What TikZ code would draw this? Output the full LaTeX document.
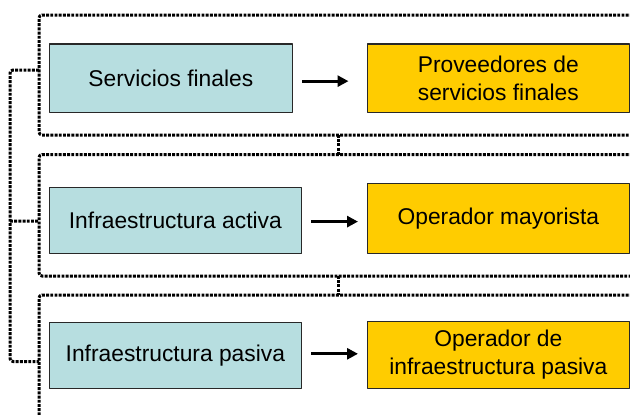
\documentclass[tikz,border=0pt]{standalone}
\usepackage{fontspec}
\setmainfont{Liberation Sans}
\usetikzlibrary{arrows.meta}
\definecolor{azulclaro}{RGB}{183,222,224}
\definecolor{amarillo}{RGB}{255,204,0}
\definecolor{borde}{RGB}{40,40,40}
\begin{document}
\begin{tikzpicture}[x=1pt, y=-1pt, font=\fontsize{22.8}{27.6}\selectfont, line join=round,
	capa/.style={draw=black, line width=3pt, dash pattern=on 2.9pt off 1.3pt, rounded corners=3pt},
	azul/.style={draw=borde, line width=1.2pt, fill=azulclaro, anchor=north west, align=center, inner sep=0pt},
	amar/.style={draw=borde, line width=1.2pt, fill=amarillo, anchor=north west, align=center, inner sep=0pt},
	flecha/.style={line width=3pt, -{Triangle[length=11pt,width=11pt]}}]
	\useasboundingbox (0,0) rectangle (630,415);
	\clip (0,0) rectangle (630,415) ; % marco de la figura
	\draw[capa] (700,15) -- (39,15) -- (39,135) -- (700,135);
	\draw[capa] (700,154.5) -- (39,154.5) -- (39,276) -- (700,276);
	\draw[capa] (700,295) -- (39,295) -- (39,430);
	\draw[capa] (338,135) -- (338,154.5) (338,276) -- (338,295);
	\draw[capa] (39,70) -- (10,70) -- (10,361.5) -- (39,361.5) (10,221) -- (39,221);
	\node[azul, minimum width=243.5pt, minimum height=68.5pt] (sf) at (48.5,43.3) {Servicios finales};
	\node[azul, minimum width=252.5pt, minimum height=66pt] (ia) at (48.5,187) {Infraestructura activa};
	\node[azul, minimum width=252.5pt, minimum height=66pt] (ip) at (48.5,321.7) {Infraestructura pasiva};
	\node[amar, minimum width=261.5pt, minimum height=68.5pt] (psf) at (367,43.3) {Proveedores de\\servicios finales};
	\node[amar, minimum width=261.5pt, minimum height=70pt] (om) at (367,183) {Operador mayorista};
	\node[amar, minimum width=261.5pt, minimum height=67pt] (oip) at (367,320.7) {Operador de\\infraestructura pasiva};
	\draw[flecha, shorten <=9pt, shorten >=18.5pt] ([yshift=-3pt]sf.east) -- ([yshift=-3pt]sf.east -| psf.west);
	\draw[flecha, shorten <=9pt, shorten >=9pt] ([yshift=-1pt]ia.east) -- ([yshift=-1pt]ia.east -| om.west);
	\draw[flecha, shorten <=9pt, shorten >=9pt] ([yshift=1.5pt]ip.east) -- ([yshift=1.5pt]ip.east -| oip.west);
\end{tikzpicture}
\end{document}
